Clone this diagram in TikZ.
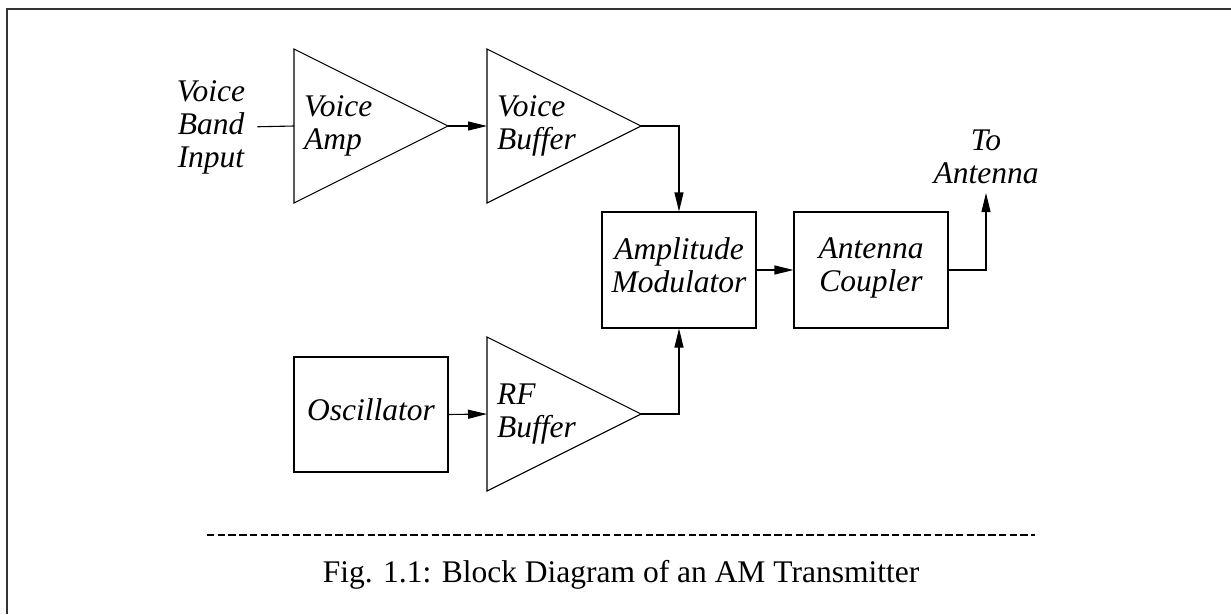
\documentclass[tikz,border=0pt]{standalone}
\usepackage{fontspec}
\setmainfont{Liberation Serif}
\usepackage{tikz}
\usetikzlibrary{positioning, shapes.geometric, arrows.meta}

\begin{document}
\begin{tikzpicture}[
                x=1pt, y=-1pt,
                font=\fontsize{31.5}{33}\selectfont\itshape,
                wire/.style={line width=1.1pt, draw=black},
                sig_flow/.style={wire, -{Triangle[length=19pt, width=9pt]}},
                amp/.style={wire, isosceles triangle, isosceles triangle stretches, shape border rotate=0, minimum width=154pt, minimum height=154pt, inner sep=0pt, outer sep=0pt, anchor=lower side},
                amp_text/.style={anchor=west, align=left, inner sep=0pt},
                block/.style={wire, rectangle, minimum width=154pt, align=center, inner sep=0pt, text depth=10pt},
                label_text/.style={align=center, inner sep=0pt},
                frame_line/.style={line width=1.4pt, black!80},
                sep_line/.style={line width=2.4pt, dash pattern=on 7.4pt off 3.3pt}
            ]
                \useasboundingbox (0,0) rectangle (1231,614);

                % Outer frame (top and left edge only)
                \draw[frame_line] (1231,9) -- (7,9) -- (7,614);

                % Voice path
                \node[label_text] (vbi) at (211,127) {Voice\\Band\\Input};
                \node[amp] (vamp) at (294,126) {};
                \node[amp_text] (vamp_t) at ([xshift=10pt]vamp.lower side) {Voice\\Amp};
                \node[amp] (vbuf) at (487,126) {};
                \node[amp_text] (vbuf_t) at ([xshift=10pt]vbuf.lower side) {Voice\\Buffer};

                % Modulator and coupler
                \node[block, minimum height=116pt] (mod) at (679,270) {Amplitude\\Modulator};
                \node[block, minimum height=116pt] (cpl) at (871,270) {Antenna\\Coupler};
                \node[label_text, anchor=south, inner ysep=9pt] (ant) at (986,193) {To\\Antenna};

                % RF path
                \node[block, minimum height=115pt] (osc) at (371,414.5) {Oscillator};
                \node[amp] (rfbuf) at (487,414) {};
                \node[amp_text] (rfbuf_t) at ([xshift=10pt]rfbuf.lower side) {RF\\Buffer};

                % Connections
                \draw[wire, shorten <=12pt] (vbi.east) -- (vamp.lower side);
                \draw[sig_flow] (vamp.apex) -- (vbuf.lower side);
                \draw[sig_flow] (vbuf.apex) -| (mod.north);
                \draw[sig_flow] (osc.east) -- (rfbuf.lower side);
                \draw[sig_flow] (rfbuf.apex) -| (mod.south);
                \draw[sig_flow] (mod.east) -- (cpl.west);
                \draw[sig_flow] (cpl.east) -| (ant.south);

                % Caption
                \coordinate (sep_l) at (207,535);
                \coordinate (sep_r) at (1035,535);
                \draw[sep_line] (sep_l) -- (sep_r);
                \node[anchor=base, inner sep=0pt, font=\fontsize{31.5}{33}\selectfont\upshape] (cap) at (621,582) {Fig. 1.1: Block Diagram of an AM Transmitter};

            \end{tikzpicture}
\end{document}
